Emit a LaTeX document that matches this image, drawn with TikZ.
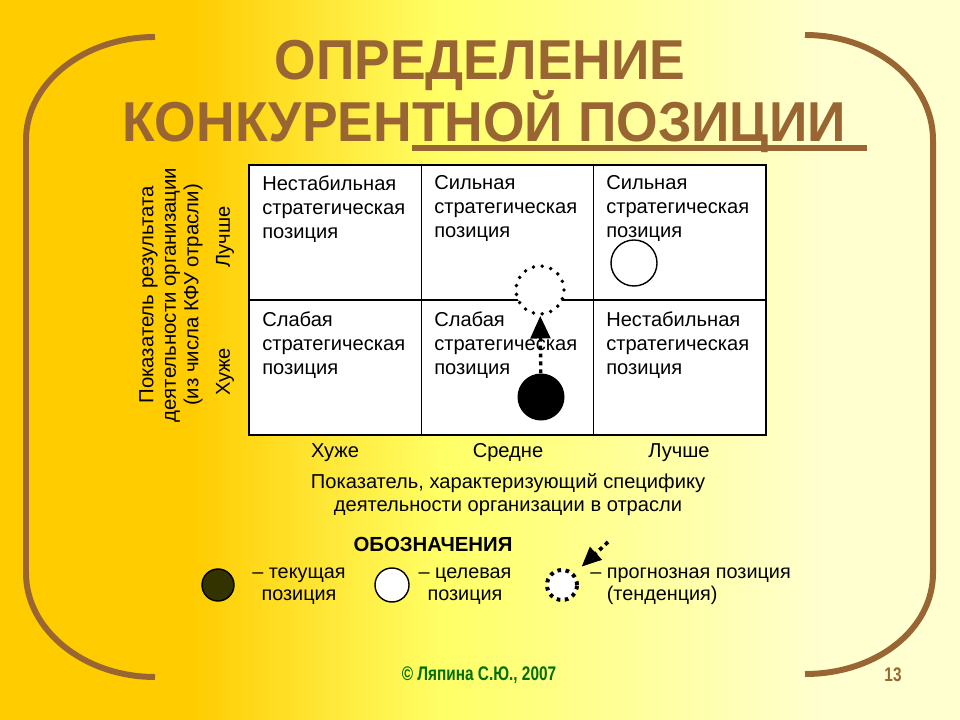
\documentclass[tikz,border=0pt]{standalone}
\usepackage{fontspec}
\setmainfont{Liberation Sans}
\newfontfamily\titlefont[FakeStretch=0.95]{Liberation Sans}
\newfontfamily\signfont[FakeStretch=0.78]{Liberation Sans}
\usetikzlibrary{arrows.meta}

\definecolor{bgorange}{RGB}{255,204,0}
\definecolor{bgyellow}{RGB}{255,255,102}
\definecolor{bgcream}{RGB}{255,255,208}
\definecolor{titlebrown}{RGB}{153,102,51}
\definecolor{signgreen}{RGB}{0,110,0}
\definecolor{curdark}{RGB}{51,51,0}

\pgfdeclarehorizontalshading{slidebg}{100bp}{color(0bp)=(bgorange); color(35bp)=(bgorange); color(48bp)=(bgyellow); color(68bp)=(bgcream); color(100bp)=(bgcream)}

\newcommand\titleul[1]{\setbox0=\hbox{#1}\rlap{\rule[-6.4pt]{\wd0}{4.3pt}}\box0}

\tikzset{
  titletext/.style={text=titlebrown, inner sep=0pt, font=\titlefont\bfseries\fontsize{40}{44}\selectfont},
  bracket/.style={draw=titlebrown, line width=4.25pt},
  gridline/.style={draw=black, line width=1pt},
  celltext/.style={anchor=north west, inner sep=0pt, align=left, font=\fontsize{14.3}{17}\selectfont},
  axistext/.style={inner sep=0pt, align=center, font=\fontsize{14.3}{16.3}\selectfont},
  legendtext/.style={inner sep=0pt, font=\fontsize{14.1}{15.5}\selectfont},
  curpos/.style={circle, fill=black, inner sep=0pt, minimum size=1.175cm},
  goalpos/.style={circle, draw=black, line width=1pt, fill=white, inner sep=0pt, minimum size=1.15cm},
  trendpos/.style={circle, draw=black, fill=white, line width=2.8pt, line cap=round, dash pattern=on 0pt off 6.3pt, inner sep=0pt, minimum size=1.2cm},
  trend/.style={draw=black, line width=2.4pt, dash pattern=on 2.8pt off 2.8pt, -{Triangle[width=14pt,length=16pt]}},
}

\begin{document}
\begin{tikzpicture}[x=0.025cm, y=-0.025cm]
  % background
  \shade[shading=slidebg] (0,0) rectangle (960,720);
  \useasboundingbox (0,0) rectangle (960,720);

  % brackets
  \draw[bracket] (155,37) .. controls (84,37) and (26,83) .. (26,140) -- (26,573)
    .. controls (26,630) and (84,677) .. (155,677);
  \draw[bracket] (805,35) .. controls (876,35) and (933,82) .. (933,140) -- (933,573)
    .. controls (933,630) and (876,674) .. (805,674);

  % title
  \node[titletext, anchor=base] (title1) at (480,80) {ОПРЕДЕЛЕНИЕ};
  \node[titletext, anchor=base west] (title2) at (122,142) {КОНКУРЕН\titleul{ТНОЙ ПОЗИЦИИ\hspace*{15pt}}};

  % matrix
  \filldraw[gridline, fill=white] (249,165) rectangle (766,435);
  \draw[gridline] (421.3,165) -- (421.3,435);
  \draw[gridline] (593.7,165) -- (593.7,435);
  \draw[gridline] (249,300) -- (766,300);

  \node[celltext] (c11) at (262,175.5) {Нестабильная\\стратегическая\\позиция};
  \node[celltext] (c12) at (434,175.5) {Сильная\\стратегическая\\позиция};
  \node[celltext] (c13) at (606,175.5) {Сильная\\стратегическая\\позиция};
  \node[celltext] (c21) at (262,311.5) {Слабая\\стратегическая\\позиция};
  \node[celltext] (c22) at (434,311.5) {Слабая\\стратегическая\\позиция};
  \node[celltext] (c23) at (606,311.5) {Нестабильная\\стратегическая\\позиция};

  % positions
  \node[goalpos] (goal) at (634,263) {};
  \node[trendpos] (tgt) at (540,290) {};
  \node[curpos] (cur) at (541,397) {};
  \draw[trend] (cur) -- (tgt);

  % axes
  \node[axistext, rotate=90, font=\fontsize{14.5}{16}\selectfont] (ylabel) at (171,295) {Показатель результата\\деятельности организации\\(из числа КФУ отрасли)};
  \node[axistext, rotate=90] (ybetter) at (225,237) {Лучше};
  \node[axistext, rotate=90] (yworse) at (225,372) {Хуже};
  \node[axistext] (xworse) at (335,453) {Хуже};
  \node[axistext] (xmid) at (508,453) {Средне};
  \node[axistext] (xbetter) at (679,453) {Лучше};
  \node[axistext] (xlabel) at (508,495) {Показатель, характеризующий специфику\\деятельности организации в отрасли};

  % legend
  \node[legendtext, font=\bfseries\fontsize{14.5}{16}\selectfont] (legend) at (433,544) {ОБОЗНАЧЕНИЯ};
  \node[curpos, fill=curdark, draw=black, line width=1pt, minimum size=0.8cm] (lcur) at (218,585) {};
  \node[legendtext, align=center] (lcurtext) at (299,586) {– текущая\\позиция};
  \node[goalpos, minimum size=0.85cm] (lgoal) at (392,585) {};
  \node[legendtext, align=center] (lgoaltext) at (465,586) {– целевая\\позиция};
  \node[trendpos, line width=2.8pt, line cap=butt, dash pattern=on 2.6pt off 3.2pt, minimum size=0.75cm] (ltrend) at (562,585) {};
  \coordinate (ltail) at (608,542);
  \draw[trend, line width=2.6pt, shorten >=7pt, -{Triangle[width=12pt,length=14pt]}] (ltail) -- (ltrend);
  \node[legendtext, align=left, anchor=west] (ltrendtext) at (590,586) {– прогнозная позиция\\\phantom{– }(тенденция)};

  % footer
  \node[inner sep=0pt, text=signgreen, font=\signfont\bfseries\fontsize{14}{16}\selectfont] (sign) at (479,675) {© Ляпина С.Ю., 2007};
  \node[inner sep=0pt, text=titlebrown, font=\signfont\bfseries\fontsize{14}{16}\selectfont] (pageno) at (893,675) {13};
\end{tikzpicture}
\end{document}
